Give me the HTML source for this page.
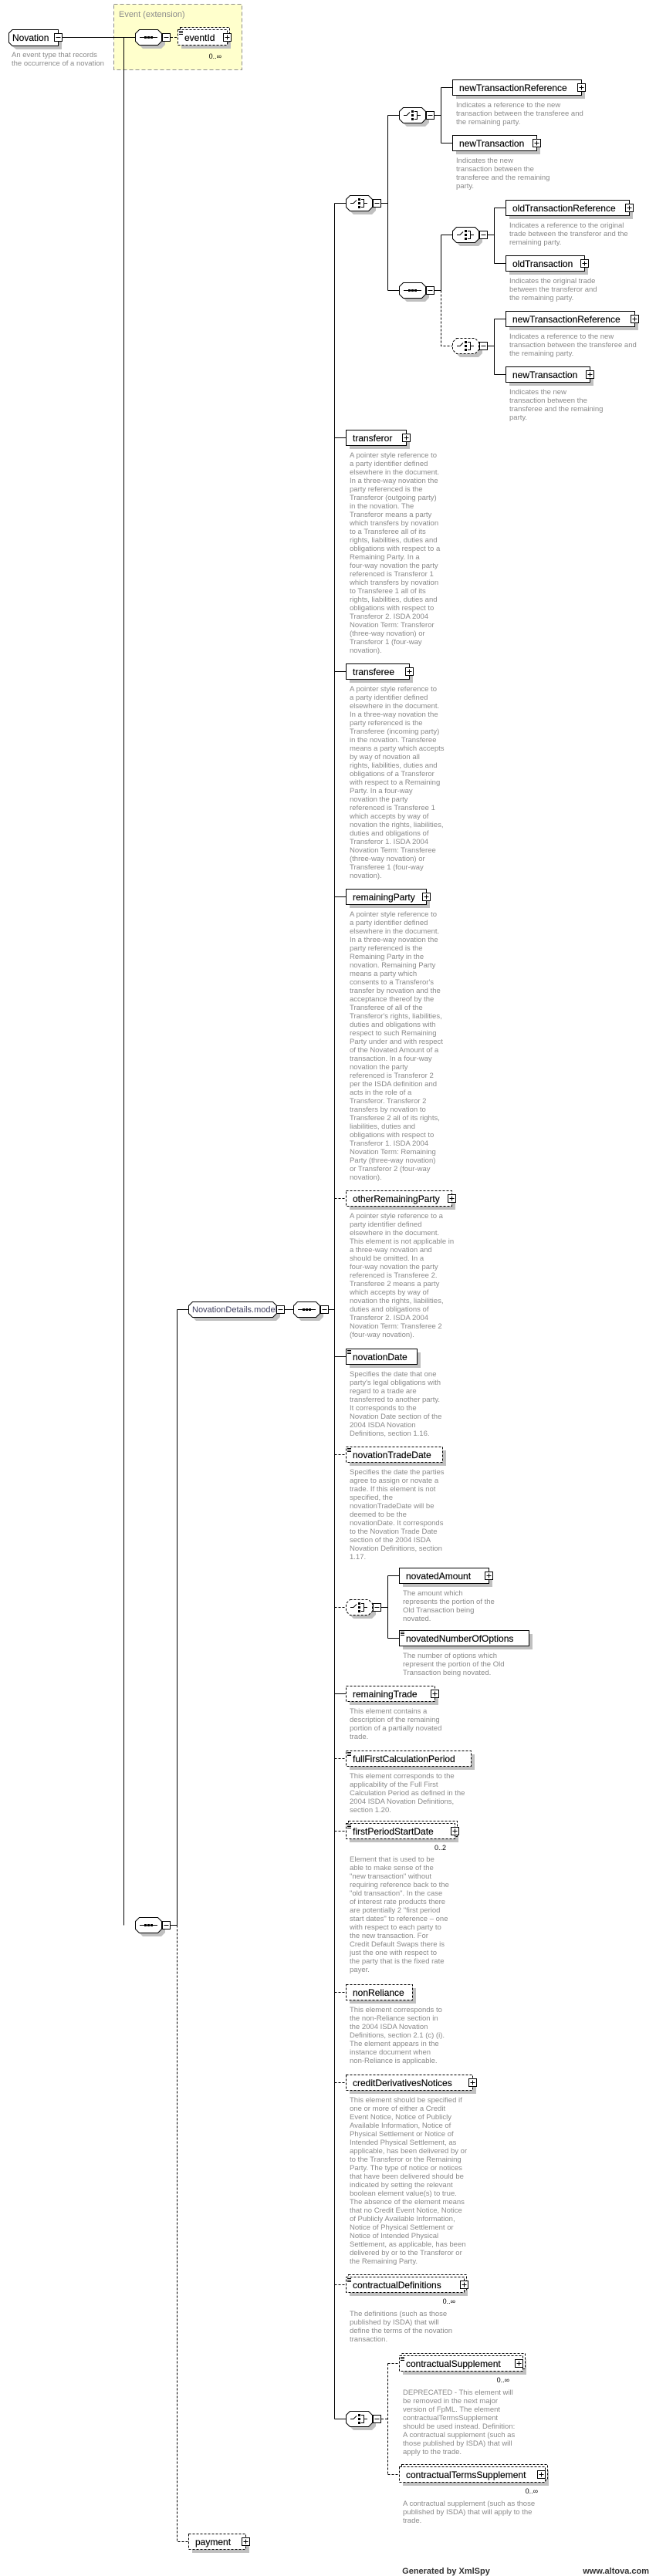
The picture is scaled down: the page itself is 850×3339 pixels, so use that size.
<!DOCTYPE html>
<html><head><meta charset="utf-8"><style>
html,body{margin:0;padding:0;background:#fff}
svg{display:block}
.b{fill:#fff;stroke:#000;stroke-width:1}
.bd{fill:#fff;stroke:#000;stroke-width:1;stroke-dasharray:3 2}
.sh{fill:#c0c0c0}
.ln{stroke:#000;stroke-width:1;fill:none}
.ld{stroke:#000;stroke-width:1;fill:none;stroke-dasharray:3 2}
.l{font-family:"Liberation Sans",sans-serif;font-size:12px;fill:#000;stroke:#000;stroke-width:0.15}
.d{font-family:"Liberation Sans",sans-serif;font-size:9.5px;fill:#8a8a8a}
.m{font-family:"Liberation Sans",sans-serif;font-size:9px;fill:#000}
</style></head><body>
<svg width="850" height="3339" viewBox="0 0 850 3339" xmlns="http://www.w3.org/2000/svg">
<defs>
<g id="plus"><rect x="0.5" y="-4.5" width="10" height="10" fill="#fff" stroke="#000"/><path d="M2.5,0.5H8.5M5.5,-2.5V3.5" stroke="#000"/></g>
<g id="minus"><rect x="0.5" y="-4.5" width="10" height="10" fill="#fff" stroke="#000"/><path d="M2.5,0.5H8.5" stroke="#000"/></g>
<g id="octS"><path class="sh" transform="translate(5,5)" d="M5,-10H29L34,-5V5L29,10H5L0,5V-5Z"/><path class="b" d="M5.5,-9.5H29.5L34.5,-4.5V5.5L29.5,10.5H5.5L0.5,5.5V-4.5Z"/><use href="#minus" x="35" y="0"/></g>
<g id="octD"><path class="sh" transform="translate(5,5)" d="M5,-10H29L34,-5V5L29,10H5L0,5V-5Z"/><path class="bd" d="M5.5,-9.5H29.5L34.5,-4.5V5.5L29.5,10.5H5.5L0.5,5.5V-4.5Z"/><use href="#minus" x="35" y="0"/></g>
<g id="seqI"><path d="M6,0.5H29" stroke="#000"/><rect x="12" y="-1" width="3" height="3"/><rect x="16" y="-1" width="3" height="3"/><rect x="20" y="-1" width="3" height="3"/></g>
<g id="chI"><path d="M6,0.5H10L14,-3.5M20,-4.5H23.5V5.5H20M23.5,0.5H28" stroke="#000" fill="none"/><rect x="16" y="-6" width="3" height="3"/><rect x="16" y="-1" width="3" height="3"/><rect x="16" y="4" width="3" height="3"/></g>
<g id="simp"><path d="M2,2.5H7M2,4.5H7M2,6.5H7" stroke="#000"/></g>
</defs>

<rect x="147.5" y="5.5" width="166" height="85" fill="#ffffcc" stroke="#8c8c8c" stroke-dasharray="5 3"/>
<text x="154" y="22" style="font-family:'Liberation Sans',sans-serif;font-size:11px;fill:#8c8c8c">Event (extension)</text>

<path class="sh" d="M21,43H80V64H21L16,60V48Z"/>
<path class="b" d="M16,38.5H75.5V59.5H16L11.5,55V43Z"/>
<text class="l" x="16" y="53">Novation</text>
<use href="#minus" x="70" y="48"/>
<text class="d" x="15" y="74">An event type that records</text>
<text class="d" x="15" y="85">the occurrence of a novation</text>

<path class="ln" d="M81,48.5H175M160.5,48.5V2495.5"/>
<use href="#octS" x="175" y="48"/><use href="#seqI" x="175" y="48"/>
<path class="ld" d="M221,48.5H230"/>
<rect class="sh" x="235" y="43" width="64" height="20"/>
<rect class="bd" x="233.5" y="35.5" width="64" height="20"/>
<rect class="bd" x="230.5" y="38.5" width="64" height="20"/>
<use href="#simp" x="230" y="38"/>
<text class="l" x="239" y="53">eventId</text>
<use href="#plus" x="289" y="48"/>
<text class="m" x="287" y="76" text-anchor="end">0..∞</text>

<use href="#octS" x="175" y="2495"/><use href="#seqI" x="175" y="2495"/>
<path class="ln" d="M221,2495.5H229.5M229.5,1697.5V2495.5M229.5,1697.5H244"/>
<path class="ld" d="M229.5,2495.5V3294.5H244"/>

<path class="sh" d="M254,1692H358L363,1697V1707L358,1712H254L249,1707V1697Z"/>
<path class="b" d="M249.5,1687.5H353.5L358.5,1692.5V1702.5L353.5,1707.5H249.5L244.5,1702.5V1692.5Z"/>
<text x="249" y="1701" style="font-family:'Liberation Sans',sans-serif;font-size:11px;fill:#404060">NovationDetails.model</text>
<use href="#minus" x="358" y="1697"/>
<path class="ln" d="M369,1697.5H380"/>
<use href="#octS" x="380" y="1697"/><use href="#seqI" x="380" y="1697"/>
<path class="ln" d="M426,1697.5H433.5M433.5,263.5V3135.5"/>

<rect class="sh" x="249" y="3289" width="74" height="20"/>
<rect class="bd" x="244.5" y="3284.5" width="74" height="20"/>
<text class="l" x="253" y="3299">payment</text>
<use href="#plus" x="313" y="3294"/>

<use href="#octS" x="448" y="263"/><use href="#chI" x="448" y="263"/>
<path class="ln" d="M433.5,263.5H448M494,263.5H502.5M502.5,149.5V376.5M502.5,149.5H517M502.5,376.5H517"/>
<use href="#octS" x="517" y="149"/><use href="#chI" x="517" y="149"/>
<path class="ln" d="M563,149.5H571.5M571.5,113.5V185.5M571.5,113.5H586M571.5,185.5H586"/>
<use href="#octS" x="517" y="376"/><use href="#seqI" x="517" y="376"/>
<path class="ln" d="M563,376.5H571.5M571.5,304.5V376.5M571.5,304.5H586"/>
<path class="ld" d="M571.5,376.5V448.5H586"/>
<use href="#octS" x="586" y="304"/><use href="#chI" x="586" y="304"/>
<path class="ln" d="M632,304.5H640.5M640.5,269.5V341.5M640.5,269.5H655M640.5,341.5H655"/>
<use href="#octD" x="586" y="448"/><use href="#chI" x="586" y="448"/>
<path class="ln" d="M632,448.5H640.5M640.5,413.5V485.5M640.5,413.5H655M640.5,485.5H655"/>

<rect class="sh" x="591" y="108" width="167" height="20"/><rect class="b" x="586.5" y="103.5" width="167" height="20"/>
<text class="l" x="595" y="118">newTransactionReference</text><use href="#plus" x="748" y="113"/>
<text class="d" x="591" y="139">Indicates a reference to the new<tspan x="591" dy="11">transaction between the transferee and</tspan><tspan x="591" dy="11">the remaining party.</tspan></text>
<rect class="sh" x="591" y="180" width="109" height="20"/><rect class="b" x="586.5" y="175.5" width="109" height="20"/>
<text class="l" x="595" y="190">newTransaction</text><use href="#plus" x="690" y="185"/>
<text class="d" x="591" y="211">Indicates the new<tspan x="591" dy="11">transaction between the</tspan><tspan x="591" dy="11">transferee and the remaining</tspan><tspan x="591" dy="11">party.</tspan></text>
<rect class="sh" x="660" y="264" width="160" height="20"/><rect class="b" x="655.5" y="259.5" width="160" height="20"/>
<text class="l" x="664" y="274">oldTransactionReference</text><use href="#plus" x="810" y="269"/>
<text class="d" x="660" y="295">Indicates a reference to the original<tspan x="660" dy="11">trade between the transferor and the</tspan><tspan x="660" dy="11">remaining party.</tspan></text>
<rect class="sh" x="660" y="336" width="102" height="20"/><rect class="b" x="655.5" y="331.5" width="102" height="20"/>
<text class="l" x="664" y="346">oldTransaction</text><use href="#plus" x="752" y="341"/>
<text class="d" x="660" y="367">Indicates the original trade<tspan x="660" dy="11">between the transferor and</tspan><tspan x="660" dy="11">the remaining party.</tspan></text>
<rect class="sh" x="660" y="408" width="167" height="20"/><rect class="b" x="655.5" y="403.5" width="167" height="20"/>
<text class="l" x="664" y="418">newTransactionReference</text><use href="#plus" x="817" y="413"/>
<text class="d" x="660" y="439">Indicates a reference to the new<tspan x="660" dy="11">transaction between the transferee and</tspan><tspan x="660" dy="11">the remaining party.</tspan></text>
<rect class="sh" x="660" y="480" width="109" height="20"/><rect class="b" x="655.5" y="475.5" width="109" height="20"/>
<text class="l" x="664" y="490">newTransaction</text><use href="#plus" x="759" y="485"/>
<text class="d" x="660" y="511">Indicates the new<tspan x="660" dy="11">transaction between the</tspan><tspan x="660" dy="11">transferee and the remaining</tspan><tspan x="660" dy="11">party.</tspan></text>

<path class="ln" d="M433.5,567.5H448M433.5,870.5H448M433.5,1162.5H448M433.5,1758.5H448M433.5,2195.5H448M433.5,3135.5H448"/>
<path class="ld" d="M433.5,1553.5H448M433.5,1885.5H448M433.5,2083.5H448M433.5,2279.5H448M433.5,2373.5H448M433.5,2582.5H448M433.5,2699.5H448M433.5,2961.5H448"/>

<rect class="sh" x="453" y="562" width="78" height="20"/><rect class="b" x="448.5" y="557.5" width="78" height="20"/>
<text class="l" x="457" y="572">transferor</text><use href="#plus" x="521" y="567"/>
<text class="d" x="453" y="593">A pointer style reference to<tspan x="453" dy="11">a party identifier defined</tspan><tspan x="453" dy="11">elsewhere in the document.</tspan><tspan x="453" dy="11">In a three-way novation the</tspan><tspan x="453" dy="11">party referenced is the</tspan><tspan x="453" dy="11">Transferor (outgoing party)</tspan><tspan x="453" dy="11">in the novation. The</tspan><tspan x="453" dy="11">Transferor means a party</tspan><tspan x="453" dy="11">which transfers by novation</tspan><tspan x="453" dy="11">to a Transferee all of its</tspan><tspan x="453" dy="11">rights, liabilities, duties and</tspan><tspan x="453" dy="11">obligations with respect to a</tspan><tspan x="453" dy="11">Remaining Party. In a</tspan><tspan x="453" dy="11">four-way novation the party</tspan><tspan x="453" dy="11">referenced is Transferor 1</tspan><tspan x="453" dy="11">which transfers by novation</tspan><tspan x="453" dy="11">to Transferee 1 all of its</tspan><tspan x="453" dy="11">rights, liabilities, duties and</tspan><tspan x="453" dy="11">obligations with respect to</tspan><tspan x="453" dy="11">Transferor 2. ISDA 2004</tspan><tspan x="453" dy="11">Novation Term: Transferor</tspan><tspan x="453" dy="11">(three-way novation) or</tspan><tspan x="453" dy="11">Transferor 1 (four-way</tspan><tspan x="453" dy="11">novation).</tspan></text>

<rect class="sh" x="453" y="865" width="82" height="20"/><rect class="b" x="448.5" y="860.5" width="82" height="20"/>
<text class="l" x="457" y="875">transferee</text><use href="#plus" x="525" y="870"/>
<text class="d" x="453" y="896">A pointer style reference to<tspan x="453" dy="11">a party identifier defined</tspan><tspan x="453" dy="11">elsewhere in the document.</tspan><tspan x="453" dy="11">In a three-way novation the</tspan><tspan x="453" dy="11">party referenced is the</tspan><tspan x="453" dy="11">Transferee (incoming party)</tspan><tspan x="453" dy="11">in the novation. Transferee</tspan><tspan x="453" dy="11">means a party which accepts</tspan><tspan x="453" dy="11">by way of novation all</tspan><tspan x="453" dy="11">rights, liabilities, duties and</tspan><tspan x="453" dy="11">obligations of a Transferor</tspan><tspan x="453" dy="11">with respect to a Remaining</tspan><tspan x="453" dy="11">Party. In a four-way</tspan><tspan x="453" dy="11">novation the party</tspan><tspan x="453" dy="11">referenced is Transferee 1</tspan><tspan x="453" dy="11">which accepts by way of</tspan><tspan x="453" dy="11">novation the rights, liabilities,</tspan><tspan x="453" dy="11">duties and obligations of</tspan><tspan x="453" dy="11">Transferor 1. ISDA 2004</tspan><tspan x="453" dy="11">Novation Term: Transferee</tspan><tspan x="453" dy="11">(three-way novation) or</tspan><tspan x="453" dy="11">Transferee 1 (four-way</tspan><tspan x="453" dy="11">novation).</tspan></text>

<rect class="sh" x="453" y="1157" width="104" height="20"/><rect class="b" x="448.5" y="1152.5" width="104" height="20"/>
<text class="l" x="457" y="1167">remainingParty</text><use href="#plus" x="547" y="1162"/>
<text class="d" x="453" y="1188">A pointer style reference to<tspan x="453" dy="11">a party identifier defined</tspan><tspan x="453" dy="11">elsewhere in the document.</tspan><tspan x="453" dy="11">In a three-way novation the</tspan><tspan x="453" dy="11">party referenced is the</tspan><tspan x="453" dy="11">Remaining Party in the</tspan><tspan x="453" dy="11">novation. Remaining Party</tspan><tspan x="453" dy="11">means a party which</tspan><tspan x="453" dy="11">consents to a Transferor's</tspan><tspan x="453" dy="11">transfer by novation and the</tspan><tspan x="453" dy="11">acceptance thereof by the</tspan><tspan x="453" dy="11">Transferee of all of the</tspan><tspan x="453" dy="11">Transferor's rights, liabilities,</tspan><tspan x="453" dy="11">duties and obligations with</tspan><tspan x="453" dy="11">respect to such Remaining</tspan><tspan x="453" dy="11">Party under and with respect</tspan><tspan x="453" dy="11">of the Novated Amount of a</tspan><tspan x="453" dy="11">transaction. In a four-way</tspan><tspan x="453" dy="11">novation the party</tspan><tspan x="453" dy="11">referenced is Transferor 2</tspan><tspan x="453" dy="11">per the ISDA definition and</tspan><tspan x="453" dy="11">acts in the role of a</tspan><tspan x="453" dy="11">Transferor. Transferor 2</tspan><tspan x="453" dy="11">transfers by novation to</tspan><tspan x="453" dy="11">Transferee 2 all of its rights,</tspan><tspan x="453" dy="11">liabilities, duties and</tspan><tspan x="453" dy="11">obligations with respect to</tspan><tspan x="453" dy="11">Transferor 1. ISDA 2004</tspan><tspan x="453" dy="11">Novation Term: Remaining</tspan><tspan x="453" dy="11">Party (three-way novation)</tspan><tspan x="453" dy="11">or Transferor 2 (four-way</tspan><tspan x="453" dy="11">novation).</tspan></text>

<rect class="sh" x="453" y="1548" width="137" height="20"/><rect class="bd" x="448.5" y="1543.5" width="137" height="20"/>
<text class="l" x="457" y="1558">otherRemainingParty</text><use href="#plus" x="580" y="1553"/>
<text class="d" x="453" y="1579">A pointer style reference to a<tspan x="453" dy="11">party identifier defined</tspan><tspan x="453" dy="11">elsewhere in the document.</tspan><tspan x="453" dy="11">This element is not applicable in</tspan><tspan x="453" dy="11">a three-way novation and</tspan><tspan x="453" dy="11">should be omitted. In a</tspan><tspan x="453" dy="11">four-way novation the party</tspan><tspan x="453" dy="11">referenced is Transferee 2.</tspan><tspan x="453" dy="11">Transferee 2 means a party</tspan><tspan x="453" dy="11">which accepts by way of</tspan><tspan x="453" dy="11">novation the rights, liabilities,</tspan><tspan x="453" dy="11">duties and obligations of</tspan><tspan x="453" dy="11">Transferor 2. ISDA 2004</tspan><tspan x="453" dy="11">Novation Term: Transferee 2</tspan><tspan x="453" dy="11">(four-way novation).</tspan></text>

<rect class="sh" x="453" y="1753" width="92" height="20"/><rect class="b" x="448.5" y="1748.5" width="92" height="20"/>
<use href="#simp" x="448" y="1748"/>
<text class="l" x="457" y="1763">novationDate</text>
<text class="d" x="453" y="1784">Specifies the date that one<tspan x="453" dy="11">party's legal obligations with</tspan><tspan x="453" dy="11">regard to a trade are</tspan><tspan x="453" dy="11">transferred to another party.</tspan><tspan x="453" dy="11">It corresponds to the</tspan><tspan x="453" dy="11">Novation Date section of the</tspan><tspan x="453" dy="11">2004 ISDA Novation</tspan><tspan x="453" dy="11">Definitions, section 1.16.</tspan></text>

<rect class="sh" x="453" y="1880" width="125" height="20"/><rect class="bd" x="448.5" y="1875.5" width="125" height="20"/>
<use href="#simp" x="448" y="1875"/>
<text class="l" x="457" y="1890">novationTradeDate</text>
<text class="d" x="453" y="1911">Specifies the date the parties<tspan x="453" dy="11">agree to assign or novate a</tspan><tspan x="453" dy="11">trade. If this element is not</tspan><tspan x="453" dy="11">specified, the</tspan><tspan x="453" dy="11">novationTradeDate will be</tspan><tspan x="453" dy="11">deemed to be the</tspan><tspan x="453" dy="11">novationDate. It corresponds</tspan><tspan x="453" dy="11">to the Novation Trade Date</tspan><tspan x="453" dy="11">section of the 2004 ISDA</tspan><tspan x="453" dy="11">Novation Definitions, section</tspan><tspan x="453" dy="11">1.17.</tspan></text>

<use href="#octD" x="448" y="2083"/><use href="#chI" x="448" y="2083"/>
<path class="ln" d="M494,2083.5H502.5M502.5,2042.5V2123.5M502.5,2042.5H517M502.5,2123.5H517"/>
<rect class="sh" x="522" y="2037" width="116" height="20"/><rect class="b" x="517.5" y="2032.5" width="116" height="20"/>
<text class="l" x="526" y="2047">novatedAmount</text><use href="#plus" x="628" y="2042"/>
<text class="d" x="522" y="2068">The amount which<tspan x="522" dy="11">represents the portion of the</tspan><tspan x="522" dy="11">Old Transaction being</tspan><tspan x="522" dy="11">novated.</tspan></text>
<rect class="sh" x="522" y="2118" width="168" height="20"/><rect class="b" x="517.5" y="2113.5" width="168" height="20"/>
<use href="#simp" x="517" y="2113"/>
<text class="l" x="526" y="2128">novatedNumberOfOptions</text>
<text class="d" x="522" y="2149">The number of options which<tspan x="522" dy="11">represent the portion of the Old</tspan><tspan x="522" dy="11">Transaction being novated.</tspan></text>

<rect class="sh" x="453" y="2190" width="115" height="20"/><rect class="bd" x="448.5" y="2185.5" width="115" height="20"/>
<text class="l" x="457" y="2200">remainingTrade</text><use href="#plus" x="558" y="2195"/>
<text class="d" x="453" y="2221">This element contains a<tspan x="453" dy="11">description of the remaining</tspan><tspan x="453" dy="11">portion of a partially novated</tspan><tspan x="453" dy="11">trade.</tspan></text>

<rect class="sh" x="453" y="2274" width="162" height="20"/><rect class="bd" x="448.5" y="2269.5" width="162" height="20"/>
<use href="#simp" x="448" y="2269"/>
<text class="l" x="457" y="2284">fullFirstCalculationPeriod</text>
<text class="d" x="453" y="2305">This element corresponds to the<tspan x="453" dy="11">applicability of the Full First</tspan><tspan x="453" dy="11">Calculation Period as defined in the</tspan><tspan x="453" dy="11">2004 ISDA Novation Definitions,</tspan><tspan x="453" dy="11">section 1.20.</tspan></text>

<rect class="sh" x="453" y="2368" width="141" height="20"/>
<rect class="bd" x="451.5" y="2360.5" width="141" height="20"/>
<rect class="bd" x="448.5" y="2363.5" width="141" height="20"/>
<use href="#simp" x="448" y="2363"/>
<text class="l" x="457" y="2378">firstPeriodStartDate</text><use href="#plus" x="584" y="2373"/>
<text class="m" x="578" y="2398" text-anchor="end">0..2</text>
<text class="d" x="453" y="2413">Element that is used to be<tspan x="453" dy="11">able to make sense of the</tspan><tspan x="453" dy="11">"new transaction" without</tspan><tspan x="453" dy="11">requiring reference back to the</tspan><tspan x="453" dy="11">"old transaction". In the case</tspan><tspan x="453" dy="11">of interest rate products there</tspan><tspan x="453" dy="11">are potentially 2 "first period</tspan><tspan x="453" dy="11">start dates" to reference – one</tspan><tspan x="453" dy="11">with respect to each party to</tspan><tspan x="453" dy="11">the new transaction. For</tspan><tspan x="453" dy="11">Credit Default Swaps there is</tspan><tspan x="453" dy="11">just the one with respect to</tspan><tspan x="453" dy="11">the party that is the fixed rate</tspan><tspan x="453" dy="11">payer.</tspan></text>

<rect class="sh" x="453" y="2577" width="86" height="20"/><rect class="bd" x="448.5" y="2572.5" width="86" height="20"/>
<text class="l" x="457" y="2587">nonReliance</text>
<text class="d" x="453" y="2608">This element corresponds to<tspan x="453" dy="11">the non-Reliance section in</tspan><tspan x="453" dy="11">the 2004 ISDA Novation</tspan><tspan x="453" dy="11">Definitions, section 2.1 (c) (i).</tspan><tspan x="453" dy="11">The element appears in the</tspan><tspan x="453" dy="11">instance document when</tspan><tspan x="453" dy="11">non-Reliance is applicable.</tspan></text>

<rect class="sh" x="453" y="2694" width="164" height="20"/><rect class="bd" x="448.5" y="2689.5" width="164" height="20"/>
<text class="l" x="457" y="2704">creditDerivativesNotices</text><use href="#plus" x="607" y="2699"/>
<text class="d" x="453" y="2725">This element should be specified if<tspan x="453" dy="11">one or more of either a Credit</tspan><tspan x="453" dy="11">Event Notice, Notice of Publicly</tspan><tspan x="453" dy="11">Available Information, Notice of</tspan><tspan x="453" dy="11">Physical Settlement or Notice of</tspan><tspan x="453" dy="11">Intended Physical Settlement, as</tspan><tspan x="453" dy="11">applicable, has been delivered by or</tspan><tspan x="453" dy="11">to the Transferor or the Remaining</tspan><tspan x="453" dy="11">Party. The type of notice or notices</tspan><tspan x="453" dy="11">that have been delivered should be</tspan><tspan x="453" dy="11">indicated by setting the relevant</tspan><tspan x="453" dy="11">boolean element value(s) to true.</tspan><tspan x="453" dy="11">The absence of the element means</tspan><tspan x="453" dy="11">that no Credit Event Notice, Notice</tspan><tspan x="453" dy="11">of Publicly Available Information,</tspan><tspan x="453" dy="11">Notice of Physical Settlement or</tspan><tspan x="453" dy="11">Notice of Intended Physical</tspan><tspan x="453" dy="11">Settlement, as applicable, has been</tspan><tspan x="453" dy="11">delivered by or to the Transferor or</tspan><tspan x="453" dy="11">the Remaining Party.</tspan></text>

<rect class="sh" x="453" y="2956" width="153" height="20"/>
<rect class="bd" x="451.5" y="2948.5" width="153" height="20"/>
<rect class="bd" x="448.5" y="2951.5" width="153" height="20"/>
<use href="#simp" x="448" y="2951"/>
<text class="l" x="457" y="2966">contractualDefinitions</text><use href="#plus" x="596" y="2961"/>
<text class="m" x="590" y="2986" text-anchor="end">0..∞</text>
<text class="d" x="453" y="3002">The definitions (such as those<tspan x="453" dy="11">published by ISDA) that will</tspan><tspan x="453" dy="11">define the terms of the novation</tspan><tspan x="453" dy="11">transaction.</tspan></text>

<use href="#octS" x="448" y="3135"/><use href="#chI" x="448" y="3135"/>
<path class="ld" d="M494,3135.5H502.5M502.5,3063.5V3207.5M502.5,3063.5H517M502.5,3207.5H517"/>
<rect class="sh" x="522" y="3058" width="160" height="20"/>
<rect class="bd" x="520.5" y="3050.5" width="160" height="20"/>
<rect class="bd" x="517.5" y="3053.5" width="160" height="20"/>
<use href="#simp" x="517" y="3053"/>
<text class="l" x="526" y="3068">contractualSupplement</text><use href="#plus" x="667" y="3063"/>
<text class="m" x="660" y="3088" text-anchor="end">0..∞</text>
<text class="d" x="522" y="3104">DEPRECATED - This element will<tspan x="522" dy="11">be removed in the next major</tspan><tspan x="522" dy="11">version of FpML. The element</tspan><tspan x="522" dy="11">contractualTermsSupplement</tspan><tspan x="522" dy="11">should be used instead. Definition:</tspan><tspan x="522" dy="11">A contractual supplement (such as</tspan><tspan x="522" dy="11">those published by ISDA) that will</tspan><tspan x="522" dy="11">apply to the trade.</tspan></text>
<rect class="sh" x="522" y="3202" width="189" height="20"/>
<rect class="bd" x="520.5" y="3194.5" width="189" height="20"/>
<rect class="bd" x="517.5" y="3197.5" width="189" height="20"/>
<text class="l" x="526" y="3212">contractualTermsSupplement</text><use href="#plus" x="696" y="3207"/>
<text class="m" x="697" y="3232" text-anchor="end">0..∞</text>
<text class="d" x="522" y="3248">A contractual supplement (such as those<tspan x="522" dy="11">published by ISDA) that will apply to the</tspan><tspan x="522" dy="11">trade.</tspan></text>

<text x="578" y="3336" text-anchor="middle" style="font-family:'Liberation Sans',sans-serif;font-size:11px;font-weight:bold;fill:#333">Generated by XmlSpy</text>
<text x="841" y="3336" text-anchor="end" style="font-family:'Liberation Sans',sans-serif;font-size:11px;font-weight:bold;fill:#333">www.altova.com</text>
</svg>
</body></html>
